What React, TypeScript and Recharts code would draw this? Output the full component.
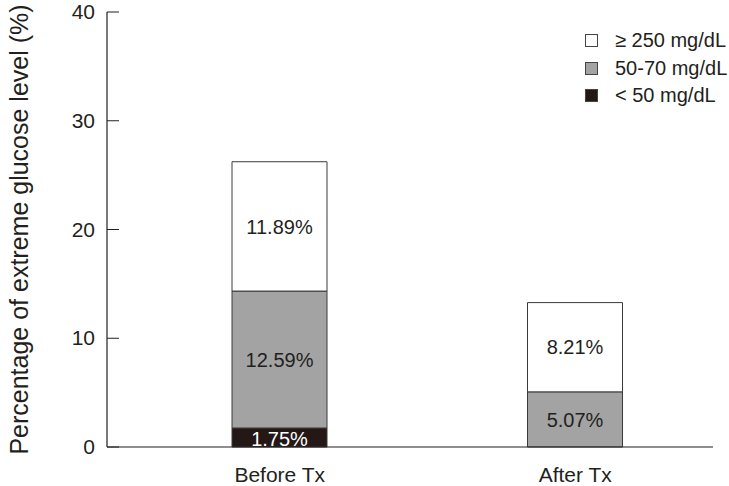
import { Bar, BarChart, LabelList, Legend, XAxis, YAxis } from "recharts";

const categories = ["Before Tx", "After Tx"];
const below50 = [1.75, 0];
const range5070 = [12.59, 5.07];
const above250 = [11.89, 8.21];
const yTicks = [0, 10, 20, 30, 40];

const legendItems = [
  { label: "≥ 250 mg/dL", color: "#ffffff" },
  { label: "50-70 mg/dL", color: "#a3a3a3" },
  { label: "< 50 mg/dL", color: "#231815" },
];

const data = categories.map((name, i) => ({
  name,
  low: below50[i],
  mid: range5070[i],
  high: above250[i],
}));

const FONT = "'Liberation Sans', Arial, sans-serif";
const INK = "#231f20";

const pct = (v: any) => (v ? `${Number(v).toFixed(2)}%` : "");

function YTick(props: any) {
  const { x, y, payload } = props;
  return (
    <g>
      <line x1={x + 12} x2={x + 24} y1={y} y2={y} stroke={INK} strokeWidth={1} />
      <text x={x} y={y + 7} textAnchor="end" fontSize={21} fill={INK} fontFamily={FONT}>
        {payload.value}
      </text>
    </g>
  );
}

function XTick(props: any) {
  const { x, y, payload } = props;
  return (
    <text x={x} y={y + 27} textAnchor="middle" fontSize={21} fill={INK} fontFamily={FONT}>
      {payload.value}
    </text>
  );
}

function YLabel(props: any) {
  const vb = props.viewBox || { x: 0, y: 12, height: 435 };
  const cx = vb.x + 19;
  const cy = vb.y + vb.height / 2;
  return (
    <text
      x={cx}
      y={cy}
      transform={`rotate(-90, ${cx}, ${cy})`}
      textAnchor="middle"
      dominantBaseline="central"
      fontSize={25}
      fill={INK}
      fontFamily={FONT}
    >
      Percentage of extreme glucose level (%)
    </text>
  );
}

function LegendBox() {
  return (
    <div style={{ fontFamily: FONT, fontSize: 20, color: INK }}>
      {legendItems.map((it) => (
        <div key={it.label} style={{ display: "flex", alignItems: "center", height: 27.5 }}>
          <span
            style={{
              display: "inline-block",
              width: 11,
              height: 11,
              background: it.color,
              border: "1px solid #444",
              marginRight: 17,
            }}
          />
          <span>{it.label}</span>
        </div>
      ))}
    </div>
  );
}

export default function App() {
  return (
    <div style={{ position: "absolute", left: 0, top: 0, background: "#fff" }}>
      <BarChart
        width={729}
        height={486}
        data={data}
        margin={{ top: 12, right: 16, bottom: 0, left: 0 }}
        barSize={95}
      >
        <XAxis
          dataKey="name"
          height={39}
          tick={<XTick />}
          tickLine={false}
          axisLine={{ stroke: INK, strokeWidth: 1.2 }}
          padding={{ left: 25, right: -10 }}
        />
        <YAxis
          width={107}
          domain={[0, 40]}
          ticks={yTicks}
          tick={<YTick />}
          tickLine={false}
          tickSize={0}
          tickMargin={12}
          axisLine={{ stroke: INK, strokeWidth: 1.2 }}
          label={<YLabel />}
        />
        <Legend
          content={<LegendBox />}
          layout="vertical"
          verticalAlign="middle"
          align="center"
          wrapperStyle={{ top: 27, left: 585, width: 150 }}
        />
        <Bar dataKey="low" stackId="a" fill="#231815" stroke="#3a3a3a" isAnimationActive={false}>
          <LabelList dataKey="low" position="center" formatter={pct} fill="#ffffff" fontSize={20} fontFamily={FONT} dy={1} />
        </Bar>
        <Bar dataKey="mid" stackId="a" fill="#a3a3a3" stroke="#3a3a3a" isAnimationActive={false}>
          <LabelList dataKey="mid" position="center" formatter={pct} fill={INK} fontSize={20} fontFamily={FONT} />
        </Bar>
        <Bar dataKey="high" stackId="a" fill="#ffffff" stroke="#3a3a3a" isAnimationActive={false}>
          <LabelList dataKey="high" position="center" formatter={pct} fill={INK} fontSize={20} fontFamily={FONT} />
        </Bar>
      </BarChart>
    </div>
  );
}
